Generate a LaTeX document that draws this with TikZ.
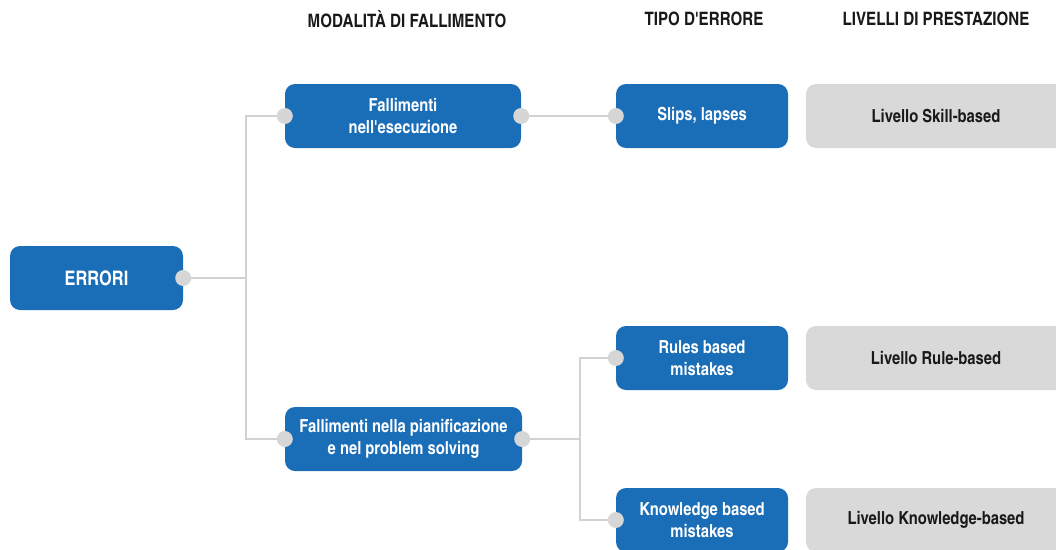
\documentclass[tikz,border=0pt]{standalone}
\usepackage{fontspec}
\setmainfont{texgyreheroscn}[Extension=.otf, UprightFont=*-regular, BoldFont=*-bold]
\usetikzlibrary{positioning}
\pgfdeclarelayer{background}
\pgfsetlayers{background,main}
\definecolor{errblue}{HTML}{1A6DB7}
\definecolor{levelgray}{HTML}{D9D9D9}
\definecolor{dotgray}{HTML}{D6D6D6}
\definecolor{linegray}{HTML}{D2D2D2}
\begin{document}
\begin{tikzpicture}[x=1pt,y=-1pt,
  bluebox/.style={fill=errblue, rounded corners=10pt, text=white, align=center,
    minimum height=64pt, inner sep=0pt, font=\bfseries\fontsize{18}{22}\selectfont},
  graybox/.style={fill=levelgray, rounded corners=10pt, text=black!90, align=center,
    minimum height=64pt, minimum width=260pt, inner sep=0pt, font=\bfseries\fontsize{18}{22}\selectfont},
  hdr/.style={font=\bfseries\fontsize{18.5}{20}\selectfont, text=black!90, inner sep=0pt},
  joint/.style={circle, fill=dotgray, minimum size=16pt, inner sep=0pt},
  conn/.style={draw=linegray, line width=1.5pt}]
\clip (0,0) rectangle (1056,549);

% column headings
\node[hdr] (h1) at (407,19) {MODALITÀ DI FALLIMENTO};
\node[hdr] (h2) at (704,19) {TIPO D\textquotesingle ERRORE};
\node[hdr] (h3) at (936,19) {LIVELLI DI PRESTAZIONE};

% root
\node[bluebox, minimum width=173pt, font=\bfseries\fontsize{20}{24}\selectfont] (err) at (96.5,278) {ERRORI};

% failure modes
\node[bluebox, minimum width=236pt] (esec) at (403,116) {Fallimenti\\nell\textquotesingle esecuzione};
\node[bluebox, minimum width=237pt] (pian) at (403.5,439) {Fallimenti nella pianificazione\\e nel problem solving};

% error types
\node[bluebox, minimum width=172pt] (slip) at (702,116) {Slips, lapses};
\node[bluebox, minimum width=172pt] (rule) at (702,358) {Rules based\\mistakes};
\node[bluebox, minimum width=172pt] (know) at (702,520) {Knowledge based\\mistakes};

% performance levels
\node[graybox] (lskill) at (936,116) {Livello Skill-based};
\node[graybox] (lrule) at (936,358) {Livello Rule-based};
\node[graybox] (lknow) at (936,520) {Livello Knowledge-based};

% connection dots
\node[joint] (dErr) at (err.east) {};
\node[joint] (dEsecL) at (esec.west) {};
\node[joint] (dEsecR) at (esec.east) {};
\node[joint] (dPianL) at (pian.west) {};
\node[joint] (dPianR) at (pian.east) {};
\node[joint] (dSlip) at (slip.west) {};
\node[joint] (dRule) at (rule.west) {};
\node[joint] (dKnow) at (know.west) {};

% branch points
\coordinate (j1) at (246,278);
\coordinate (j2) at (580,439);

\begin{pgfonlayer}{background}
  \draw[conn] (dErr.center) -- (j1);
  \draw[conn] (dEsecL.center) -| (j1) |- (dPianL.center);
  \draw[conn] (dEsecR.center) -- (dSlip.center);
  \draw[conn] (dPianR.center) -- (j2);
  \draw[conn] (dRule.center) -| (j2) |- (dKnow.center);
\end{pgfonlayer}
\end{tikzpicture}
\end{document}
